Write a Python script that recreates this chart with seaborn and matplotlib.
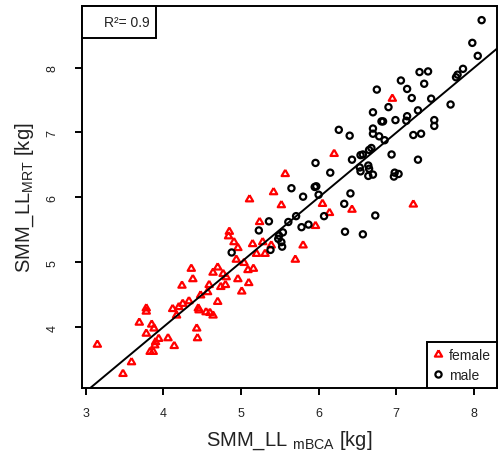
import matplotlib

matplotlib.use("Agg")
import matplotlib.pyplot as plt
from matplotlib.lines import Line2D
from matplotlib.markers import MarkerStyle
from matplotlib.patches import Rectangle
import pandas as pd
import seaborn as sns

# SMM_LL by mBCA (x) and MRT (y)
female_x = [6.95, 6.20, 5.57, 5.42, 5.52, 6.05, 6.14, 6.43, 7.22, 5.96, 5.80, 5.70,
            5.11, 5.24, 5.15, 5.28, 5.39, 5.20, 5.31, 4.85, 4.84, 4.91, 4.96, 4.94,
            5.04, 5.09, 5.16, 4.70, 4.64, 4.77, 4.81, 4.36, 4.38, 4.24, 4.96, 5.10,
            5.01, 4.59, 4.74, 4.80, 4.57, 4.48, 4.70, 4.33, 4.25, 4.20, 4.12, 4.17,
            4.45, 4.46, 4.55, 4.60, 4.64, 3.78, 3.78, 3.69, 3.85, 3.88, 3.78, 4.43,
            4.44, 3.15, 3.94, 3.90, 3.89, 3.83, 3.87, 4.06, 4.14, 3.59, 3.48]
female_y = [7.52, 6.67, 6.36, 6.08, 5.88, 5.90, 5.76, 5.81, 5.89, 5.56, 5.26, 5.04,
            5.97, 5.62, 5.28, 5.31, 5.26, 5.13, 5.13, 5.47, 5.40, 5.31, 5.22, 5.04,
            4.99, 4.88, 4.90, 4.92, 4.84, 4.82, 4.77, 4.90, 4.74, 4.64, 4.74, 4.68,
            4.55, 4.65, 4.62, 4.65, 4.54, 4.49, 4.39, 4.40, 4.36, 4.31, 4.28, 4.18,
            4.29, 4.26, 4.23, 4.22, 4.18, 4.29, 4.24, 4.07, 4.04, 3.98, 3.90, 3.98,
            3.83, 3.73, 3.82, 3.77, 3.72, 3.62, 3.62, 3.83, 3.71, 3.46, 3.28]
male_x = [8.10, 7.98, 8.05, 7.30, 7.41, 7.86, 7.79, 7.77, 7.06, 7.36, 7.14, 6.75,
          7.20, 7.45, 7.70, 6.90, 7.28, 6.70, 7.14, 7.13, 6.81, 6.83, 6.99, 7.49,
          7.49, 6.26, 6.40, 6.70, 6.70, 6.78, 6.85, 7.22, 7.32, 6.68, 6.65, 6.57,
          6.54, 6.94, 6.43, 7.28, 5.96, 6.15, 6.53, 6.54, 6.64, 6.65, 6.64, 6.70,
          6.98, 7.03, 6.97, 5.65, 5.95, 5.97, 6.00, 5.80, 6.41, 6.33, 6.07, 6.73,
          5.71, 5.61, 5.36, 5.78, 5.87, 5.23, 5.54, 5.49, 5.48, 5.52, 5.53, 5.38,
          4.88, 6.34, 6.57]
male_y = [8.73, 8.38, 8.18, 7.93, 7.94, 7.98, 7.89, 7.85, 7.80, 7.75, 7.67, 7.66,
          7.53, 7.52, 7.43, 7.39, 7.34, 7.31, 7.25, 7.18, 7.17, 7.17, 7.19, 7.19,
          7.10, 7.04, 6.95, 7.06, 6.98, 6.94, 6.88, 6.96, 6.98, 6.76, 6.73, 6.66,
          6.65, 6.66, 6.58, 6.58, 6.53, 6.38, 6.46, 6.40, 6.49, 6.44, 6.33, 6.35,
          6.38, 6.36, 6.32, 6.14, 6.16, 6.17, 6.04, 6.01, 6.06, 5.90, 5.71, 5.72,
          5.71, 5.62, 5.63, 5.54, 5.58, 5.49, 5.46, 5.41, 5.36, 5.31, 5.24, 5.19,
          5.15, 5.47, 5.43]

fit_intercept = 0.01
fit_slope = 0.998
r_squared = 0.9
x_ticks = [3, 4, 5, 6, 7, 8]
y_ticks = [4, 5, 6, 7, 8]

LW = 1.4
MLW = 1.6


def r_limits(values):
    # R pads the data range by 4% on each side
    lo, hi = min(values), max(values)
    pad = 0.04 * (hi - lo)
    return lo - pad, hi + pad


def main() -> None:
    sns.set_style("white")
    plt.rcParams["font.family"] = ["Liberation Sans", "DejaVu Sans"]
    plt.rcParams["mathtext.fontset"] = "custom"
    plt.rcParams["mathtext.rm"] = "Liberation Sans"
    plt.rcParams["mathtext.it"] = "Liberation Sans:italic"

    df = pd.DataFrame({
        "mbca": female_x + male_x,
        "mrt": female_y + male_y,
        "sex": ["female"] * len(female_x) + ["male"] * len(male_x),
    })

    tri = MarkerStyle([(0, 0.577), (-0.5, -0.289), (0.5, -0.289), (0, 0.577)])

    fig = plt.figure(figsize=(4.99, 4.56), dpi=100)
    ax = fig.add_axes([82 / 499, 1 - 389 / 456, 415 / 499, 382 / 456])

    groups = [("female", "red", tri, 36), ("male", "black", "o", 20)]
    for sex, color, marker, size in groups:
        sns.scatterplot(data=df[df["sex"] == sex], x="mbca", y="mrt", marker=marker,
                        s=size, linewidth=MLW, ax=ax, legend=False)
        coll = ax.collections[-1]
        coll.set_facecolor("none")
        coll.set_edgecolor(color)

    ax.axline((0, fit_intercept), slope=fit_slope, color="black", lw=LW, zorder=3)

    ax.set_xlim(*r_limits(df["mbca"]))
    ax.set_ylim(*r_limits(df["mrt"]))
    ax.set_xticks(x_ticks)
    ax.set_yticks(y_ticks)
    ax.tick_params(axis="both", direction="out", length=5, width=LW, labelsize=9,
                   color="black", labelcolor="#222222")
    ax.tick_params(axis="x", pad=8.5, bottom=True)
    ax.tick_params(axis="y", pad=12, left=True, labelrotation=90)
    for lab in ax.get_yticklabels():
        lab.set_va("center")
    for sp in ax.spines.values():
        sp.set_color("black")
        sp.set_linewidth(LW)

    ax.set_xlabel(r"SMM_LL $_{\mathrm{mBCA}}$ [kg]", fontsize=14.5, color="#222222")
    ax.set_ylabel(r"SMM_LL$_{\mathrm{MRT}}$ [kg]", fontsize=14.5, color="#222222")
    ax.xaxis.set_label_coords(0.5, -0.105)
    ax.yaxis.set_label_coords(-0.112, 0.5)

    # R^2 box in the top-left corner
    bw, bh = 74 / 415, 32 / 382
    ax.add_patch(Rectangle((0, 1 - bh), bw, bh, transform=ax.transAxes,
                           facecolor="white", edgecolor="black", lw=LW, zorder=5,
                           clip_on=False))
    ax.text(0.164, 1 - bh / 2, f"R²= {r_squared}", transform=ax.transAxes,
            ha="right", va="center", fontsize=10, color="#222222", zorder=6)

    handles = [
        Line2D([], [], marker=tri, color="red", markerfacecolor="none", ls="none",
               markersize=36 ** 0.5, markeredgewidth=MLW),
        Line2D([], [], marker="o", color="black", markerfacecolor="none", ls="none",
               markersize=20 ** 0.5, markeredgewidth=MLW),
    ]
    leg = ax.legend(handles, ["female", "male"], loc="lower right", borderaxespad=0,
                    fancybox=False, edgecolor="black", framealpha=1, fontsize=10,
                    handlelength=0.7, handletextpad=0.45, borderpad=0.45,
                    labelspacing=0.4)
    leg.get_frame().set_linewidth(LW)
    for t in leg.get_texts():
        t.set_color("#222222")

    fig.savefig("out.png", dpi=100)
    plt.close(fig)


if __name__ == "__main__":
    main()
